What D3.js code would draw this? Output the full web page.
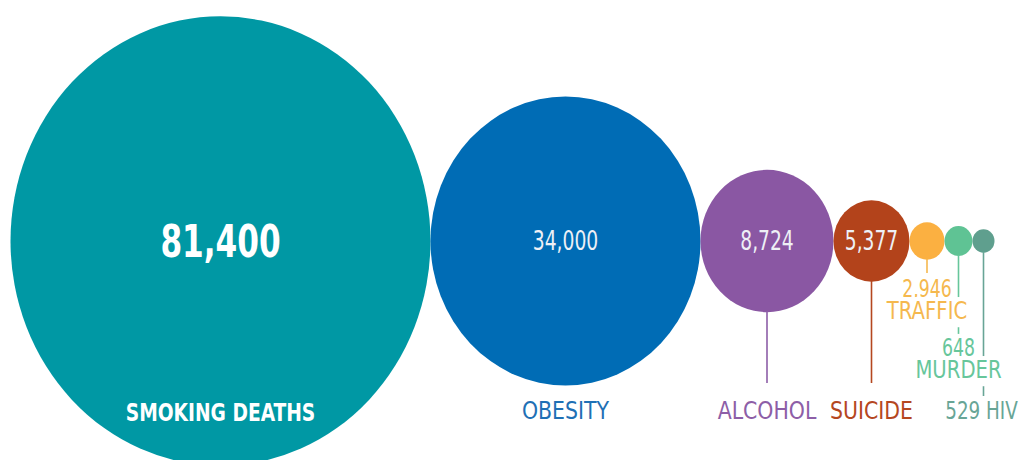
<!DOCTYPE html>
<html>
<head>
<meta charset="utf-8">
<script src="https://cdn.jsdelivr.net/npm/d3@7"></script>
<style>
  body { margin: 0; background: #fff; }
  svg { display: block; }
  text { font-family: "Liberation Sans Narrow", "DejaVu Sans Condensed", "Roboto", sans-serif; }
</style>
</head>
<body>
<div id="chart"></div>
<script>
// data
var categories = ["SMOKING DEATHS", "OBESITY", "ALCOHOL", "SUICIDE", "TRAFFIC", "MURDER", "HIV"];
var deaths = [81400, 34000, 8724, 5377, 2946, 648, 529];
var colors = ["#0098a4", "#006cb5", "#8a57a3", "#b3431b", "#fbb041", "#5fc394", "#5f9f8e"];
var labelColors = ["#ffffff", "#1f70b5", "#8d5ea7", "#b5471f", "#f5b84e", "#67c69b", "#68a596"];

// chart size
var width = 1021,
    height = 460,
    cy = 241,
    startX = 10.5,
    squash = 1.07;   // the original picture is a bit stretched vertically

var format = d3.format(",");

// radius scale (the infographic is not strictly area based for the small ones)
var r = d3.scaleLinear()
    .domain(deaths)
    .range([210, 135, 66.5, 38, 17.5, 14, 11]);

// x position of each bubble, bubbles touch each other
var cx = [];
var x = startX;
deaths.forEach(function(d, i) {
  x = x + r(d);
  cx.push(x);
  x = x + r(d);
});

// narrow the font a bit, the original uses a condensed DIN like face
function squeeze(txt, bold) {
  if (/^[\d,]+$/.test(txt)) return bold ? 0.77 : 0.8;
  if (/\d/.test(txt)) return 0.85;
  return bold ? 0.83 : 0.91;
}

var svg = d3.select("#chart")
    .append("svg")
    .attr("width", width)
    .attr("height", height);

// bubbles
svg.selectAll(".bubble")
    .data(deaths)
  .enter().append("ellipse")
    .attr("class", "bubble")
    .attr("cx", function(d, i) { return cx[i]; })
    .attr("cy", cy)
    .attr("rx", function(d) { return r(d); })
    .attr("ry", function(d) { return r(d) * squash; })
    .attr("fill", function(d, i) { return colors[i]; });

// values inside the big bubbles
var inside = [0, 1, 2, 3];
svg.selectAll(".value")
    .data(inside)
  .enter().append("text")
    .attr("class", "value")
    .attr("transform", function(i) {
      return "translate(" + cx[i] + "," + cy + ") scale(" + squeeze(format(deaths[i]), i == 0) + ",1)";
    })
    .attr("dy", "0.36em")
    .attr("text-anchor", "middle")
    .attr("font-size", function(i) { return i == 0 ? 45 : 26; })
    .attr("font-weight", function(i) { return i == 0 ? "bold" : "normal"; })
    .attr("fill", function(i) { return i == 0 ? "#ffffff" : "#eef0f6"; })
    .text(function(i) { return format(deaths[i]); });

// the label rows: [index, text, baseline, size, bold]
var rows = [
  [0, categories[0], 421, 25, true],
  [1, categories[1], 419, 25, false],
  [2, categories[2], 419, 25, false],
  [3, categories[3], 419, 25, false],
  [4, format(deaths[4]), 297, 24, false],
  [4, categories[4], 319, 24, false],
  [5, format(deaths[5]), 356, 24, false],
  [5, categories[5], 378, 24, false],
  [6, format(deaths[6]) + " " + categories[6], 419, 24, false]
];

// where the stems stop
var stemEnd = {2: 383, 3: 383, 4: 273, 5: 334, 6: 396};

// stems from bubble to label
Object.keys(stemEnd).forEach(function(k) {
  var i = +k;
  svg.append("line")
      .attr("x1", cx[i])
      .attr("x2", cx[i])
      .attr("y1", cy + r(deaths[i]) * squash - 1)
      .attr("y2", stemEnd[i])
      .attr("stroke", labelColors[i])
      .attr("stroke-width", 1.6);
});

// labels, with a white box behind so they cut the stems
var lab = svg.selectAll(".label")
    .data(rows)
  .enter().append("g")
    .attr("class", "label")
    .attr("transform", function(d) {
      var cxl = d[0] == 6 ? cx[d[0]] - 2 : cx[d[0]];
      return "translate(" + cxl + "," + d[2] + ") scale(" + squeeze(d[1], d[4]) + ",1)";
    });

lab.append("text")
    .attr("text-anchor", "middle")
    .attr("font-size", function(d) { return d[3]; })
    .attr("font-weight", function(d) { return d[4] ? "bold" : "normal"; })
    .attr("fill", function(d) { return labelColors[d[0]]; })
    .text(function(d) { return d[1]; });

lab.each(function(d) {
  if (d[0] < 4) return;
  var g = d3.select(this);
  var b = g.select("text").node().getBBox();
  g.insert("rect", "text")
      .attr("x", b.x - 2)
      .attr("y", b.y)
      .attr("width", b.width + 4)
      .attr("height", b.height + 3)
      .attr("fill", "#fff");
});
</script>
</body>
</html>
